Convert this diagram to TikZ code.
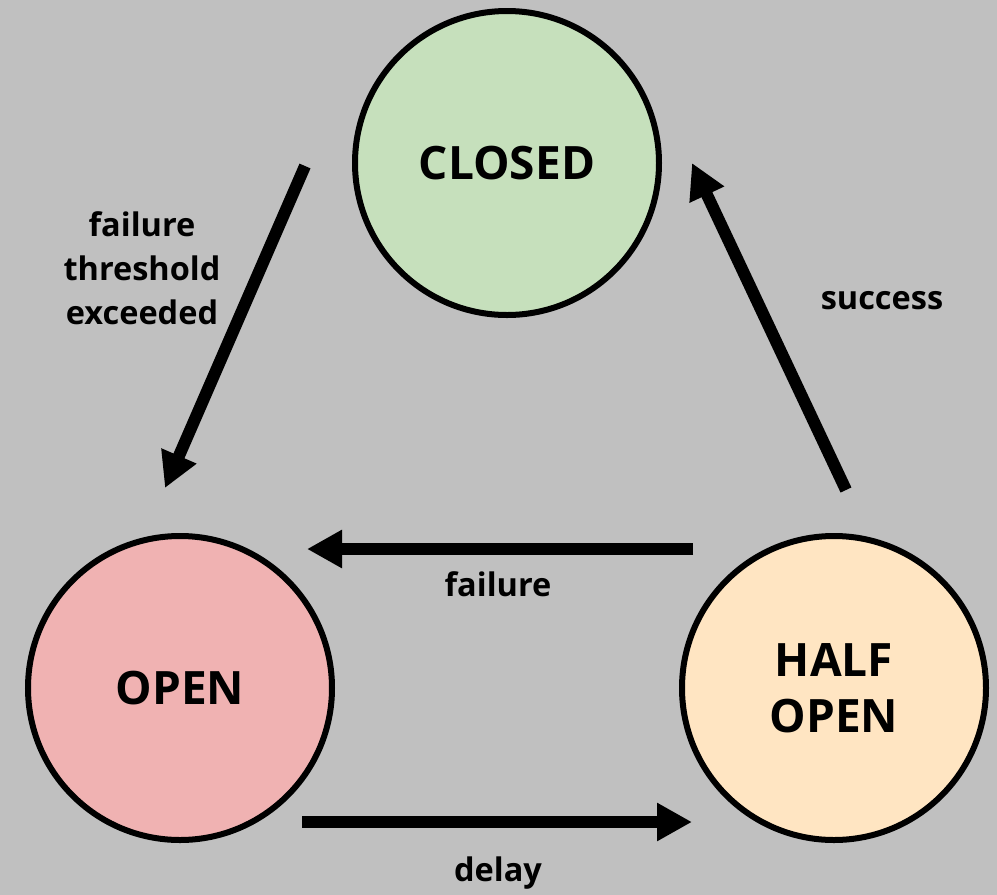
\documentclass[tikz,border=0pt]{standalone}
\usepackage{fontspec}
\setmainfont{Open Sans}
\usetikzlibrary{arrows.meta}
\definecolor{bggray}{RGB}{192,192,192}
\definecolor{closedfill}{RGB}{198,224,188}
\definecolor{openfill}{RGB}{240,178,178}
\definecolor{halffill}{RGB}{255,229,194}
\begin{document}
\begin{tikzpicture}[x=1pt,y=-1pt,
  state/.style={circle,draw=black,line width=6pt,minimum size=304pt,inner sep=0pt,
    align=center,font=\fontsize{46}{56}\selectfont\bfseries},
  trans/.style={line width=12pt,-{Triangle[length=35pt,width=36pt]}},
  lbl/.style={align=center,font=\fontsize{32.5}{44}\selectfont\bfseries}]
  \fill[bggray] (0,0) rectangle (997,895);
  \useasboundingbox (0,0) rectangle (997,895);

  % states
  \node[state,fill=closedfill] (closed) at (507,163) {CLOSED};
  \node[state,fill=openfill] (open) at (180,688) {OPEN};
  \node[state,fill=halffill] (half) at (834,688) {HALF\\OPEN};

  % transition end points
  \coordinate (c2o-s) at (305,166);
  \coordinate (c2o-e) at (165,488);
  \coordinate (h2c-s) at (846,490);
  \coordinate (h2c-e) at (692,163);
  \coordinate (h2o-s) at (693,549);
  \coordinate (h2o-e) at (307,549);
  \coordinate (o2h-s) at (302,822);
  \coordinate (o2h-e) at (692,822);

  % transitions
  \draw[trans] (c2o-s) -- (c2o-e);
  \draw[trans] (h2c-s) -- (h2c-e);
  \draw[trans] (h2o-s) -- (h2o-e);
  \draw[trans] (o2h-s) -- (o2h-e);

  % labels
  \node[lbl] (l-thr) at (142,268) {failure\\threshold\\exceeded};
  \node[lbl] (l-succ) at (882,301) {success};
  \node[lbl] (l-fail) at (498,584) {failure};
  \node[lbl] (l-delay) at (498,873) {delay};
\end{tikzpicture}
\end{document}
